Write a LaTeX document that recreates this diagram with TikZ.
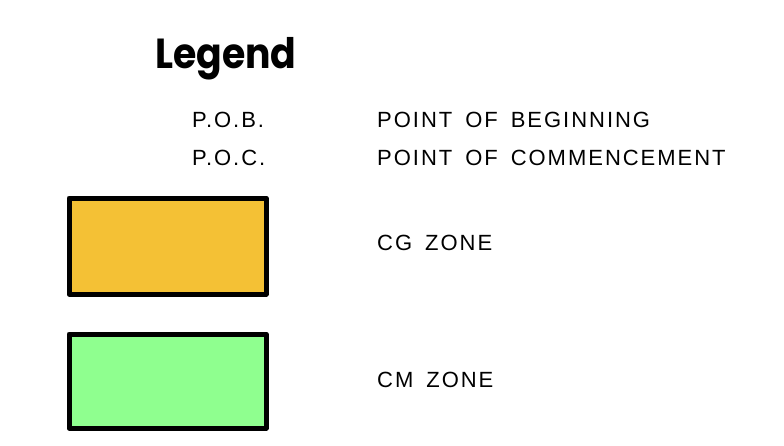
\documentclass[tikz,border=0pt]{standalone}
\usepackage{fontspec}
\setmainfont{Liberation Sans}
\newfontfamily\legendfont{Poppins}
\newfontfamily\cadfont[LetterSpace=9,WordSpace=1.6]{Liberation Sans}
\definecolor{cgorange}{HTML}{F4C135}
\definecolor{cmgreen}{HTML}{8FFF8F}
\begin{document}
\begin{tikzpicture}[x=1pt,y=-1pt,
  lbl/.style={anchor=base west,inner sep=0pt,font=\cadfont\fontsize{22}{26}\selectfont},
  zonebox/.style={draw=black,line width=5pt,line join=round}]
\useasboundingbox (0,0) rectangle (784,445);
\node[anchor=base west,inner sep=0pt,xscale=0.9,font=\legendfont\bfseries\fontsize{42}{48}\selectfont] (title) at (155,68) {Legend};
\node[lbl] (pob) at (192,127) {P.O.B.};
\node[lbl] (pobt) at (377,127) {POINT OF BEGINNING};
\node[lbl] (poc) at (192,165) {P.O.C.};
\node[lbl] (poct) at (377,165) {POINT OF COMMENCEMENT};
\draw[zonebox,fill=cgorange] (69,198) rectangle (266,294);
\coordinate (cgbox) at (167,246);
\node[lbl] (cg) at (377,250) {CG ZONE};
\draw[zonebox,fill=cmgreen] (69,334) rectangle (266,428);
\coordinate (cmbox) at (167,381);
\node[lbl] (cm) at (377,387) {CM ZONE};
\end{tikzpicture}
\end{document}
